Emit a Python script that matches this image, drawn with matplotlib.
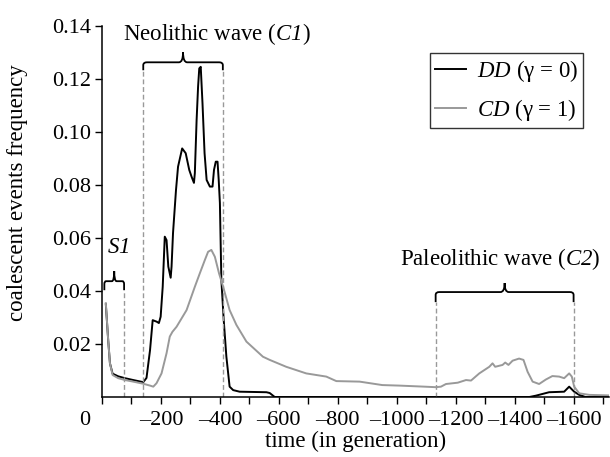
import numpy as np
import matplotlib
matplotlib.use('Agg')
import matplotlib.pyplot as plt
from matplotlib.path import Path
from matplotlib.patches import PathPatch
from matplotlib.transforms import ScaledTranslation

plt.rcParams['font.family'] = 'Liberation Serif'
# mathtext is only used for the italic names, so digits go italic as well
plt.rcParams['mathtext.fontset'] = 'custom'
plt.rcParams['mathtext.rm'] = 'Liberation Serif:italic'
plt.rcParams['mathtext.it'] = 'Liberation Serif:italic'

# DD (gamma = 0)
dd_t = [13, 21, 27, 36, 55, 78, 106, 140, 151, 163, 172, 186, 193, 199, 206,
        213, 219, 225, 233, 236, 241, 251, 258, 272, 284, 296, 304, 312, 315,
        321, 326, 330, 335, 341, 348, 355, 366, 375, 380, 386, 392, 396, 400,
        405, 413, 422, 433, 445, 467, 558, 569, 586, 1450, 1472, 1517, 1568,
        1585, 1602, 1619, 1640, 1720]
dd_f = [0.0350, 0.0215, 0.0127, 0.0088, 0.0078, 0.0071, 0.0064, 0.0056, 0.0072,
        0.0177, 0.0290, 0.0284, 0.0279, 0.0303, 0.0416, 0.0605, 0.0592, 0.0492,
        0.0450, 0.0492, 0.0619, 0.0780, 0.0869, 0.0938, 0.0920, 0.0857, 0.0831,
        0.0808, 0.0845, 0.1045, 0.1171, 0.1240, 0.1246, 0.1108, 0.0920, 0.0819,
        0.0794, 0.0794, 0.0857, 0.0888, 0.0888, 0.0819, 0.0732, 0.0442, 0.0290,
        0.0152, 0.0039, 0.0026, 0.0020, 0.0018, 0.0015, 0.0, 0.0, 0.0005,
        0.0018, 0.0020, 0.0039, 0.0020, 0.0008, 0.0, 0.0]

# CD (gamma = 1)
cd_t = [13, 21, 27, 36, 55, 78, 106, 140, 163, 174, 185, 202, 219, 230, 239,
        253, 287, 315, 332, 349, 360, 371, 383, 397, 411, 433, 456, 490, 546,
        569, 625, 693, 761, 795, 874, 951, 1009, 1094, 1133, 1150, 1167, 1207,
        1235, 1252, 1280, 1314, 1325, 1334, 1359, 1368, 1379, 1393, 1415, 1430,
        1444, 1461, 1483, 1506, 1528, 1551, 1568, 1585, 1594, 1602, 1619, 1653,
        1720]
cd_f = [0.0354, 0.0215, 0.0127, 0.0083, 0.0071, 0.0064, 0.0058, 0.0050, 0.0043,
        0.0039, 0.0052, 0.0089, 0.0165, 0.0228, 0.0246, 0.0265, 0.0328, 0.0416,
        0.0467, 0.0517, 0.0548, 0.0555, 0.0529, 0.0467, 0.0416, 0.0328, 0.0272,
        0.0209, 0.0152, 0.0140, 0.0114, 0.0089, 0.0077, 0.0060, 0.0058, 0.0045,
        0.0043, 0.0039, 0.0037, 0.0039, 0.0049, 0.0054, 0.0064, 0.0062, 0.0089,
        0.0114, 0.0127, 0.0114, 0.0121, 0.0130, 0.0121, 0.0137, 0.0145, 0.0140,
        0.0095, 0.0058, 0.0049, 0.0066, 0.0079, 0.0077, 0.0071, 0.0089, 0.0077,
        0.0039, 0.0014, 0.0008, 0.0006]

# wave boundaries (generations)
s1_span = (8, 75)
c1_span = (140, 410)
c2_span = (1132, 1600)

x_ticks = list(range(0, 1800, 100))
y_ticks = [0.02, 0.04, 0.06, 0.08, 0.10, 0.12, 0.14]

gray = '#999999'
fs = 16.5


def brace(ax, x0, x1, y_end, y_top, y_tip, rx=12, ry=0.0011, tx=14):
    '''
    curly brace over [x0, x1], in data coords
    '''
    xm = (x0 + x1) / 2.0
    verts = [(x0, y_end), (x0, y_top - ry), (x0, y_top), (x0 + rx, y_top),
             (xm - tx, y_top), (xm, y_top), (xm, y_tip),
             (xm, y_top), (xm + tx, y_top),
             (x1 - rx, y_top), (x1, y_top), (x1, y_top - ry), (x1, y_end)]
    codes = [Path.MOVETO, Path.LINETO, Path.CURVE3, Path.CURVE3,
             Path.LINETO, Path.CURVE3, Path.CURVE3,
             Path.CURVE3, Path.CURVE3,
             Path.LINETO, Path.CURVE3, Path.CURVE3, Path.LINETO]
    ax.add_patch(PathPatch(Path(verts, codes), fc='none', ec='black', lw=1.3,
                           clip_on=False))


fig = plt.figure(figsize=(6.1, 4.57), dpi=100)
ax = fig.add_axes([0.1672, 0.1313, 0.8311, 0.8118])

ax.plot(dd_t, dd_f, color='black', lw=1.4, label=r'$DD$ (γ = 0)')
ax.plot(cd_t, cd_f, color=gray, lw=1.4, label=r'$CD$ (γ = 1)')

# dashed limits of the waves
dash = dict(color=gray, lw=1.0, ls=(0, (3.5, 2)))
ax.vlines(s1_span[1], 0, 0.0403, **dash)
ax.vlines(c1_span, 0, 0.1233, **dash)
ax.vlines(c2_span, 0, 0.0358, **dash)

brace(ax, s1_span[0], s1_span[1], 0.0403, 0.0437, 0.0475, rx=6, tx=8)
brace(ax, c1_span[0], c1_span[1], 0.1233, 0.1263, 0.1301)
brace(ax, c2_span[0], c2_span[1], 0.0358, 0.0396, 0.0430)

ax.text(54, 0.0544, r'$S1$', fontsize=fs, ha='center', va='baseline')
ax.text(390, 0.1347, r'Neolithic wave ($C1$)', fontsize=fs,
        ha='center', va='baseline')
ax.text(1350, 0.0498, r'Paleolithic wave ($C2$)', fontsize=fs,
        ha='center', va='baseline')

ax.set_xlim(0, 1720)
ax.set_ylim(0, 0.14)
ax.set_xticks(x_ticks)
ax.set_xticklabels(['0' if v == 0 else ('\u2013%d' % v if v % 200 == 0 else '')
                    for v in x_ticks])
ax.set_yticks(y_ticks)
ax.set_yticklabels(['%.2f' % v for v in y_ticks])
ax.tick_params(direction='out', length=5, width=1, labelsize=fs - 0.5, pad=3)
ax.tick_params(axis='x', pad=5)

# the 0 label sits left of the axis in the original
lab0 = ax.get_xticklabels()[0]
lab0.set_transform(lab0.get_transform() + ScaledTranslation(-0.17, 0, fig.dpi_scale_trans))

for s in ['top', 'right']:
    ax.spines[s].set_visible(False)
for s in ['left', 'bottom']:
    ax.spines[s].set_linewidth(1.1)

ax.set_xlabel('time (in generation)', fontsize=fs, labelpad=1)
ax.set_ylabel('coalescent events frequency', fontsize=fs)
ax.yaxis.set_label_coords(-0.145, 0.55)

leg = ax.legend(loc='upper right', bbox_to_anchor=(0.949, 0.927),
                borderaxespad=0, fontsize=fs, handlelength=1.35,
                handletextpad=0.5, labelspacing=0.6, borderpad=0.2,
                fancybox=False, frameon=True)
leg.get_frame().set_edgecolor('black')
leg.get_frame().set_linewidth(1.0)

fig.savefig('out.png', dpi=100)
